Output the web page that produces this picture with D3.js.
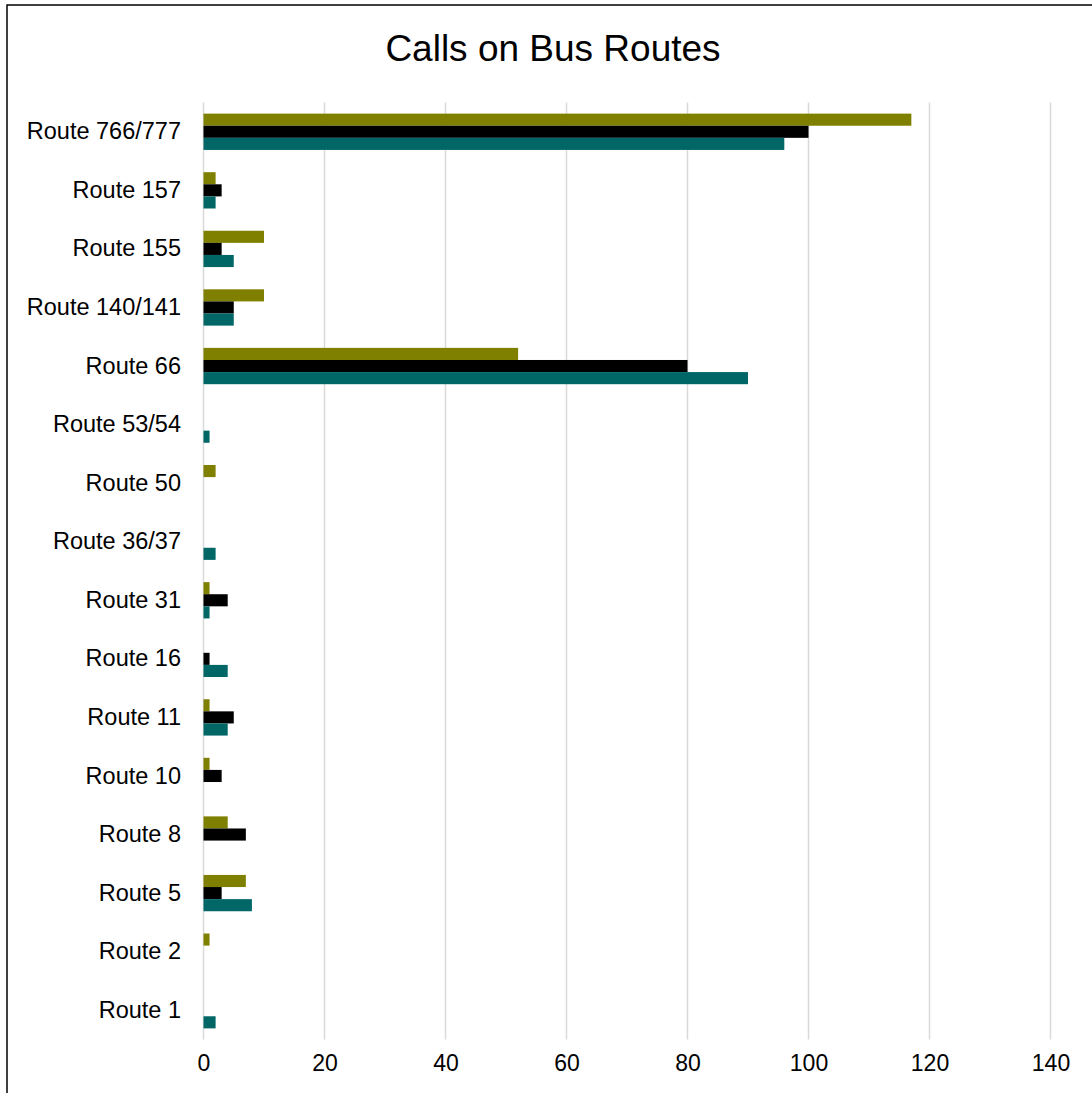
<!DOCTYPE html>
<html>
<head>
<meta charset="utf-8">
<script src="https://cdn.jsdelivr.net/npm/d3@7"></script>
<style>
  html, body { margin: 0; padding: 0; background: #fff; }
  svg { display: block; }
</style>
</head>
<body>
<svg id="chart" width="1092" height="1093"></svg>
<script>
const categories = ["Route 766/777", "Route 157", "Route 155", "Route 140/141", "Route 66",
  "Route 53/54", "Route 50", "Route 36/37", "Route 31", "Route 16", "Route 11",
  "Route 10", "Route 8", "Route 5", "Route 2", "Route 1"];
const seriesNames = ["Series A", "Series B", "Series C"];
const seriesA = [117, 2, 10, 10, 52, 0, 2, 0, 1, 0, 1, 1, 4, 7, 1, 0];
const seriesB = [100, 3, 3, 5, 80, 0, 0, 0, 4, 1, 5, 3, 7, 3, 0, 0];
const seriesC = [96, 2, 5, 5, 90, 1, 0, 2, 1, 4, 4, 0, 0, 8, 0, 2];
const xTicks = [0, 20, 40, 60, 80, 100, 120, 140];
const colors = ["#808000", "#000000", "#006666"];
const title = "Calls on Bus Routes";

const svg = d3.select("#chart");
const font = "Liberation Sans, Arial, sans-serif";

// border
svg.append("rect").attr("x", 7).attr("y", 5).attr("width", 1200).attr("height", 1200)
  .attr("fill", "none").attr("stroke", "#000").attr("stroke-width", 1.5);

svg.append("text").attr("x", 553).attr("y", 48).attr("dy", "0.35em")
  .attr("text-anchor", "middle").attr("font-family", font).attr("font-size", 37)
  .attr("fill", "#000").text(title);

const x = d3.scaleLinear().domain([0, 140]).range([203.5, 1050.5]);
const y = d3.scaleBand().domain(categories).range([102.5, 1039.5])
  .paddingInner(0.38).paddingOuter(0.19);
const ySub = d3.scaleBand().domain(seriesNames).range([0, y.bandwidth()]);

// gridlines
svg.append("g").selectAll("line").data(xTicks).join("line")
  .attr("x1", d => x(d)).attr("x2", d => x(d))
  .attr("y1", 102.5).attr("y2", 1039.5)
  .attr("stroke", "#d9d9d9").attr("stroke-width", 1.5);

// bars
const allSeries = [seriesA, seriesB, seriesC];
const groups = svg.append("g").selectAll("g").data(categories).join("g")
  .attr("transform", d => `translate(0,${y(d)})`);
groups.selectAll("rect")
  .data((d, i) => allSeries.map((s, k) => ({ name: seriesNames[k], value: s[i], k })))
  .join("rect")
  .attr("x", x(0))
  .attr("y", d => ySub(d.name))
  .attr("width", d => x(d.value) - x(0))
  .attr("height", ySub.bandwidth())
  .attr("fill", d => colors[d.k]);

// y axis labels
const yAxis = d3.axisLeft(y).tickSize(0).tickPadding(0);
const yg = svg.append("g").attr("transform", "translate(181,0)").call(yAxis);
yg.select(".domain").remove();
yg.selectAll("text").attr("font-family", font).attr("font-size", 23.5).attr("fill", "#000");

// x axis labels
const xAxis = d3.axisBottom(x).tickValues(xTicks).tickSize(0).tickPadding(0).tickFormat(d3.format("d"));
const xg = svg.append("g").attr("transform", "translate(0,1055)").call(xAxis);
xg.select(".domain").remove();
xg.selectAll("text").attr("font-family", font).attr("font-size", 23).attr("fill", "#000");
</script>
</body>
</html>
